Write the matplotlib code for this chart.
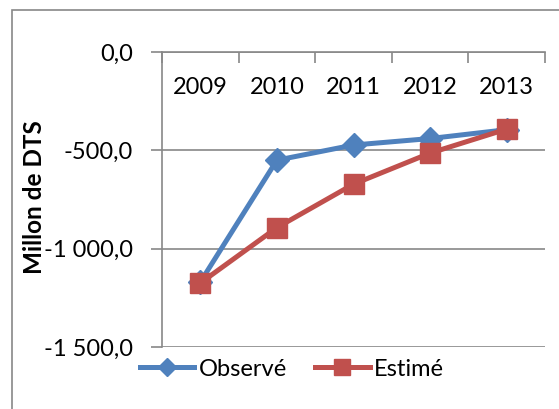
import matplotlib.pyplot as plt
from matplotlib.patches import Rectangle

plt.rcParams['font.family'] = ['Lato', 'DejaVu Sans']

years = ['2009', '2010', '2011', '2012', '2013']
observe = [-1170, -550, -473, -440, -395]
estime = [-1175, -893, -672, -514, -392]

blue = '#4F81BD'
red = '#C0504D'
grey = '#888888'

fig = plt.figure(figsize=(5.59, 4.09), dpi=100)
# outer chart border
fig.patches.append(Rectangle((12 / 559, -0.1), 1.2, 1 - 10 / 409 + 0.1,
                             transform=fig.transFigure, fill=False,
                             edgecolor=grey, linewidth=1.2))

ax = fig.add_axes([162 / 559, 1 - 347 / 409, 383 / 559, 295 / 409])
x = list(range(len(years)))
ax.plot(x, observe, color=blue, lw=3.6, marker='D', ms=12,
        label='Observé', zorder=3)
ax.plot(x, estime, color=red, lw=3.6, marker='s', ms=15,
        label='Estimé', zorder=4)

ax.set_xlim(-0.5, 4.5)
ax.set_ylim(-1500, 0)
ax.set_yticks([0, -500, -1000, -1500])
ax.set_yticklabels(['0,0', '-500,0', '-1 000,0', '-1 500,0'], fontsize=17)
ax.yaxis.grid(True, color=grey, lw=1.2)
ax.set_axisbelow(True)

# category axis sits at y = 0 (top), ticks between categories
ax.set_xticks([i - 0.5 for i in range(len(years) + 1)])
ax.set_xticklabels([])
ax.xaxis.tick_top()
ax.tick_params(axis='x', direction='in', length=8, color=grey, width=1.2)
ax.tick_params(axis='y', direction='out', length=8, color=grey, width=1.2,
               pad=13)
for i, yr in enumerate(years):
    ax.text(i, -183, yr, ha='center', va='center', fontsize=17)

for s in ['right', 'bottom']:
    ax.spines[s].set_visible(False)
for s in ['left', 'top']:
    ax.spines[s].set_color(grey)
    ax.spines[s].set_linewidth(1.2)

fig.text(35 / 559, 1 - 197 / 409, 'Millon de DTS', rotation=90,
         ha='center', va='center', fontsize=17.5, fontweight='bold')

fig.legend(loc='center', bbox_to_anchor=(292 / 559, 1 - 369 / 409), ncol=2,
           frameon=False, fontsize=17, handlelength=2.3, handletextpad=0.2,
           columnspacing=1.2, borderpad=0, markerscale=0.8)

fig.savefig('out.png', dpi=100)
